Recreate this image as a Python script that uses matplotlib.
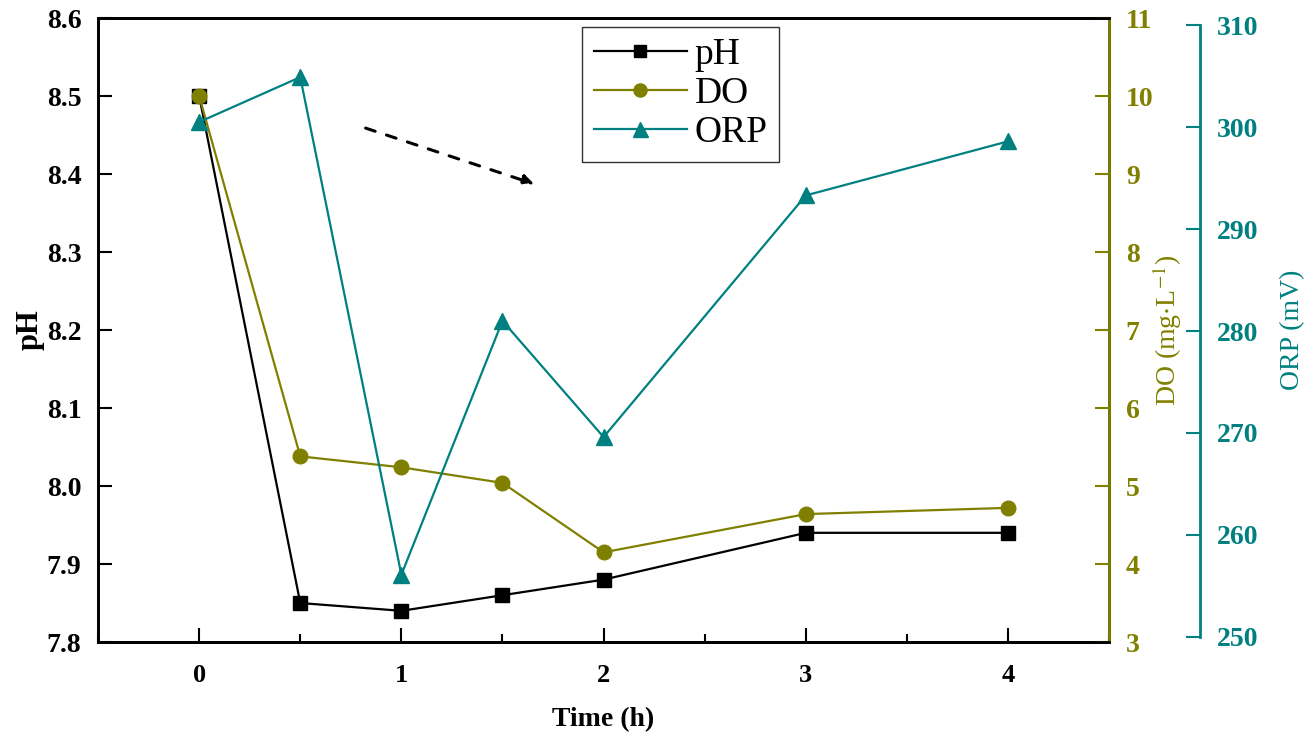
import matplotlib
matplotlib.use("Agg")
import matplotlib.pyplot as plt
from matplotlib.ticker import MultipleLocator, FormatStrFormatter

plt.rcParams["font.family"] = ["Liberation Serif", "DejaVu Serif"]
plt.rcParams["mathtext.fontset"] = "stix"

# data
time_h = [0, 0.5, 1, 1.5, 2, 3, 4]
ph = [8.50, 7.85, 7.84, 7.86, 7.88, 7.94, 7.94]
do = [10.0, 5.38, 5.24, 5.04, 4.15, 4.64, 4.72]
orp = [300.5, 304.9, 256.1, 281.0, 269.6, 293.3, 298.6]

OLIVE = "#808000"
TEAL = "#008080"

fig = plt.figure(figsize=(13.11, 7.35), dpi=100)
ax = fig.add_axes([0.0748, 0.1265, 0.7712, 0.849])
ax2 = ax.twinx()
ax3 = ax.twinx()

l1, = ax.plot(time_h, ph, color="black", marker="s", markersize=9.5, lw=1.6, label="pH")
l2, = ax2.plot(time_h, do, color=OLIVE, marker="o", markersize=10.5, lw=1.6, label="DO")
l3, = ax3.plot(time_h, orp, color=TEAL, marker="^", markersize=12, lw=1.6, label="ORP")

ax.set_xlim(-0.5, 4.5)
ax.set_ylim(7.8, 8.6)
ax2.set_ylim(3, 11)
ax3.set_ylim(249.5, 310.7)

ax.xaxis.set_major_locator(MultipleLocator(1))
ax.xaxis.set_minor_locator(MultipleLocator(0.5))
ax.yaxis.set_major_locator(MultipleLocator(0.1))
ax.yaxis.set_major_formatter(FormatStrFormatter("%.1f"))
ax2.yaxis.set_major_locator(MultipleLocator(1))
ax3.yaxis.set_major_locator(MultipleLocator(10))

for a in (ax, ax2, ax3):
    for s in a.spines.values():
        s.set_linewidth(2)

ax.tick_params(axis="y", which="major", direction="in", length=10, width=1.5,
               labelsize=20, pad=12, right=False)
ax.tick_params(axis="x", which="major", direction="in", length=10, width=1.5,
               labelsize=19, pad=16)
ax.tick_params(axis="x", which="minor", direction="in", length=6, width=1.5)
for lab in ax.get_xticklabels() + ax.get_yticklabels():
    lab.set_fontweight("bold")

ax2.spines["right"].set_color(OLIVE)
ax2.tick_params(axis="y", direction="in", length=10, width=1.5, colors=OLIVE,
                labelsize=20, pad=12)
for lab in ax2.get_yticklabels():
    lab.set_fontweight("bold")

ax3.spines["right"].set_position(("axes", 1.09))
ax3.spines["right"].set_color(TEAL)
ax3.spines["right"].set_bounds(250, 310)
for side in ("top", "left", "bottom"):
    ax3.spines[side].set_visible(False)
ax3.tick_params(axis="y", direction="in", length=10, width=1.5, colors=TEAL,
                labelsize=20, pad=12)
for lab in ax3.get_yticklabels():
    lab.set_fontweight("bold")

ax.set_xlabel("Time (h)", fontsize=20, fontweight="bold")
ax.xaxis.set_label_coords(0.5, -0.105)
ax.set_ylabel("pH", fontsize=22, fontweight="bold")
ax.yaxis.set_label_coords(-0.053, 0.5)
ax2.set_ylabel(r"DO (mg$\cdot$L$^{-1}$)", fontsize=20, color=OLIVE)
ax2.yaxis.set_label_coords(1.041, 0.5)
ax3.set_ylabel("ORP (mV)", fontsize=20, color=TEAL)
ax3.yaxis.set_label_coords(1.169, 0.5)

# dashed arrow showing the trend
ax.annotate("", xy=(1.67, 8.386), xytext=(0.81, 8.46),
            arrowprops=dict(arrowstyle="-|>", linestyle=(0, (3.3, 3.9)), color="black",
                            lw=2.2, mutation_scale=16))

leg = ax3.legend(handles=[l1, l2, l3], loc="upper left", bbox_to_anchor=(0.479, 0.986),
                 fontsize=27, frameon=True, fancybox=False, edgecolor="black",
                 handlelength=2.5, borderpad=0.3, labelspacing=0.12, handletextpad=0.2,
                 borderaxespad=0, markerscale=0.9)
leg.get_frame().set_linewidth(1.0)

fig.savefig("out.png", dpi=100)
